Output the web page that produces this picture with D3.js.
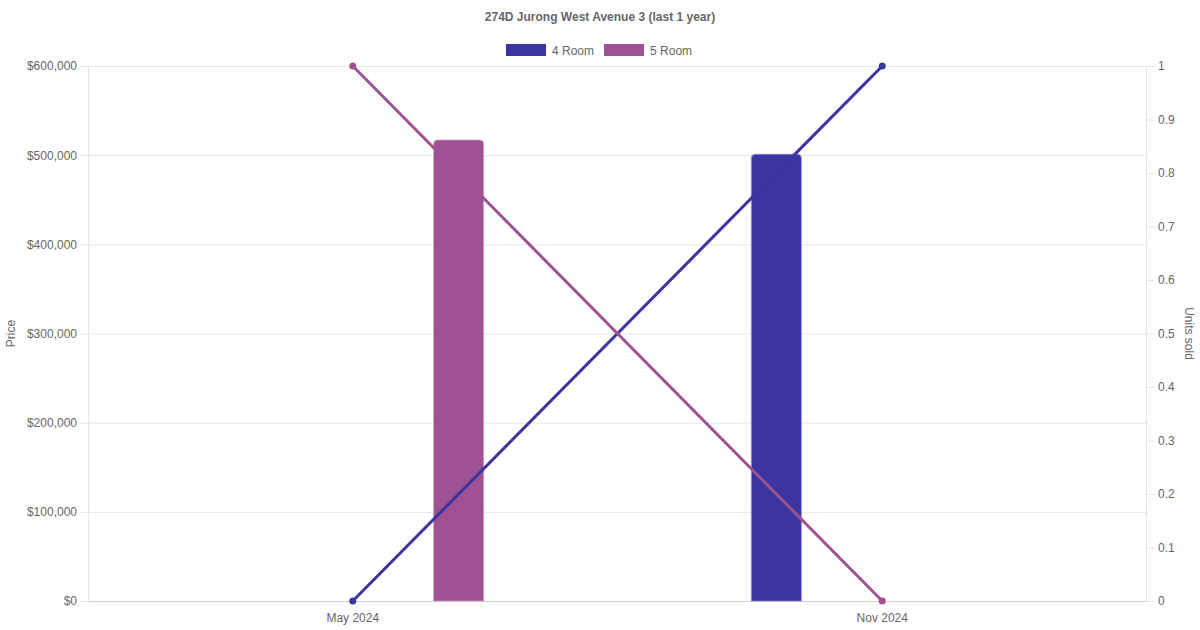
<!DOCTYPE html>
<html><head><meta charset="utf-8">
<script src="https://cdn.jsdelivr.net/npm/d3@7"></script>
<style>body{margin:0;background:#fff}svg{display:block;font-family:"Liberation Sans",Arial,sans-serif}</style>
</head><body><svg id="c" width="1200" height="630"></svg>
<script>
const categories = ["May 2024", "Nov 2024"];
const seriesNames = ["4 Room", "5 Room"];
const priceValues = { "4 Room": [null, 501000], "5 Room": [517000, null] };
const unitsValues = { "4 Room": [0, 1], "5 Room": [1, 0] };
const priceTicks = [0, 100000, 200000, 300000, 400000, 500000, 600000];
const unitTicks = [0, 0.1, 0.2, 0.3, 0.4, 0.5, 0.6, 0.7, 0.8, 0.9, 1];
const colors = { "4 Room": "#3a35a0", "5 Room": "#9f5293" };
const borders = { "4 Room": "#8c88d6", "5 Room": "#c99bc1" };
const titleText = "274D Jurong West Avenue 3 (last 1 year)";

const svg = d3.select("#c");
const L = 88, R = 1147, T = 66, B = 601;
const x = d3.scaleBand().domain(categories).range([L, R]);
const yL = d3.scaleLinear().domain([0, 600000]).range([B, T]);
const yR = d3.scaleLinear().domain([0, 1]).range([B, T]);
const grid = "#e5e5e5", tc = "#666";

svg.append("text").attr("x", 600).attr("y", 21).attr("text-anchor", "middle")
  .attr("font-size", 12).attr("font-weight", "bold").attr("fill", tc).text(titleText);

const lg = svg.append("g");
let lx = 506;
seriesNames.forEach(n => {
  lg.append("rect").attr("x", lx).attr("y", 44).attr("width", 40).attr("height", 12).attr("fill", colors[n]);
  const t = lg.append("text").attr("x", lx + 46).attr("y", 54.5).attr("font-size", 12).attr("fill", tc).text(n);
  lx += 46 + t.node().getComputedTextLength() + 10;
});

const gL = svg.append("g").attr("transform", `translate(${L},0)`)
  .call(d3.axisLeft(yL).tickValues(priceTicks).tickSize(8).tickPadding(3).tickFormat(d => "$" + d3.format(",")(d)));
gL.select(".domain").remove();
gL.selectAll(".tick line").attr("stroke", grid).attr("x2", R - L).attr("x1", -8);
gL.selectAll(".tick text").attr("fill", tc).attr("font-size", 12).attr("font-family", "Liberation Sans, Arial, sans-serif");

const gR = svg.append("g").attr("transform", `translate(${R},0)`)
  .call(d3.axisRight(yR).tickValues(unitTicks).tickSize(8).tickPadding(3).tickFormat(d => d3.format("")(+d.toFixed(1))));
gR.select(".domain").remove();
gR.selectAll(".tick line").attr("stroke", grid);
gR.selectAll(".tick text").attr("fill", tc).attr("font-size", 12).attr("font-family", "Liberation Sans, Arial, sans-serif");

svg.append("line").attr("x1", L + 0.5).attr("x2", L + 0.5).attr("y1", T).attr("y2", B).attr("stroke", grid);
svg.append("line").attr("x1", R - 0.5).attr("x2", R - 0.5).attr("y1", T).attr("y2", B).attr("stroke", grid);
svg.append("line").attr("x1", L).attr("x2", R).attr("y1", B + 0.5).attr("y2", B + 0.5).attr("stroke", "#d0d0d0");

const gX = svg.append("g").attr("transform", `translate(0,${B})`)
  .call(d3.axisBottom(x).tickSize(0).tickPadding(12));
gX.select(".domain").remove();
gX.selectAll(".tick text").attr("fill", tc).attr("font-size", 12).attr("font-family", "Liberation Sans, Arial, sans-serif");

svg.append("text").attr("transform", `translate(15,${(T + B) / 2}) rotate(-90)`).attr("text-anchor", "middle")
  .attr("font-size", 12).attr("fill", tc).text("Price");
svg.append("text").attr("transform", `translate(1185,${(T + B) / 2}) rotate(90)`).attr("text-anchor", "middle")
  .attr("font-size", 12).attr("fill", tc).text("Units sold");

// bars
const barW = 50, rad = 4;
const slot = x.bandwidth() * 0.8 / seriesNames.length;
seriesNames.forEach((n, si) => {
  categories.forEach((c, i) => {
    const v = priceValues[n][i];
    if (v == null) return;
    const cx = x(c) + x.bandwidth() / 2 + (si - (seriesNames.length - 1) / 2) * slot;
    const x0 = cx - barW / 2, x1 = cx + barW / 2, y0 = yL(v), yb = yL(0);
    const p = `M${x0},${yb}V${y0 + rad}Q${x0},${y0} ${x0 + rad},${y0}H${x1 - rad}Q${x1},${y0} ${x1},${y0 + rad}V${yb}Z`;
    svg.append("path").attr("d", p).attr("fill", colors[n]).attr("stroke", borders[n]).attr("stroke-width", 0.8);
  });
});

// lines on top
seriesNames.forEach(n => {
  const pts = categories.map((c, i) => [x(c) + x.bandwidth() / 2, yR(unitsValues[n][i])]);
  svg.append("path").attr("d", d3.line()(pts)).attr("fill", "none").attr("stroke", colors[n]).attr("stroke-width", 3);
  svg.selectAll(null).data(pts).enter().append("circle").attr("cx", d => d[0]).attr("cy", d => d[1]).attr("r", 3.5).attr("fill", colors[n]);
});
</script></body></html>
